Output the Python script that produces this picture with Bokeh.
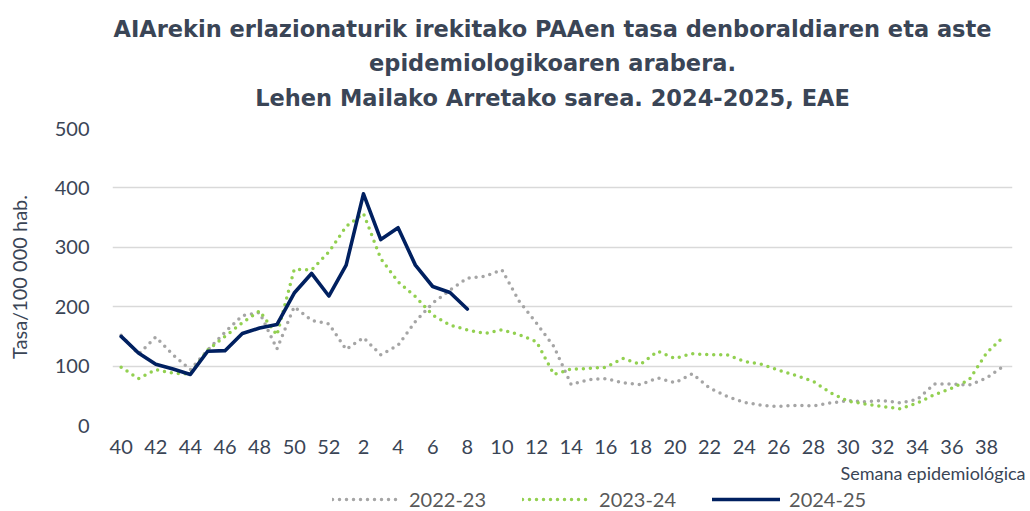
from bokeh.plotting import figure
from bokeh.layouts import column
from bokeh.models import Range1d, FixedTicker, Title, Label, Legend, LegendItem
from bokeh.embed import file_html
from bokeh.resources import INLINE

# ---- data ----
weeks = [str(w) for w in range(40, 53)] + [str(w) for w in range(1, 40)]
tick_idx = list(range(0, 52, 2))
y_ticks = [0, 100, 200, 300, 400, 500]

s2223 = [152, 120, 149, 119, 94, 127, 157, 185, 190, 129, 200, 177, 171,
         128, 148, 119, 135, 175, 206, 228, 248, 251, 262,
         209, 172, 133, 69, 77, 79, 72, 69, 80, 72,
         87, 63, 49, 39, 34, 32, 34, 33, 38, 42,
         40, 42, 38, 44, 70, 70, 68, 80, 100]
s2324 = [98, 79, 94, 88, 87, 127, 150, 173, 193, 152, 263, 262, 292,
         335, 357, 281, 242, 217, 186, 169, 161, 155, 161,
         153, 141, 86, 95, 96, 98, 113, 103, 125, 113,
         121, 119, 119, 108, 103, 93, 84, 74, 55, 41,
         36, 32, 28, 38, 52, 63, 77, 122, 150]
s2425 = [150, 122, 103, 95, 86, 125, 126, 155, 164, 170, 223, 256, 218,
         270, 390, 313, 333, 270, 234, 224, 196]

series_names = ["2022-23", "2023-24", "2024-25"]
colors = ["#A5A5A5", "#92D050", "#002060"]
dashes = ["0 7", "0 7", "solid"]
widths = [3.5, 3.5, 3.6]

title_lines = ["AIArekin erlazionaturik irekitako PAAen tasa denboraldiaren eta aste",
               "epidemiologikoaren arabera.",
               "Lehen Mailako Arretako sarea. 2024-2025, EAE"]
y_title = "Tasa/100 000 hab."
x_title = "Semana epidemiológica"

FONT = "Lato"
TFONT = "DejaVu Sans"
TXT = "#3A4556"
W = 1030


def strip(height):
    f = figure(width=W, height=height, output_backend="svg", toolbar_location=None,
               x_range=Range1d(0, 10), y_range=Range1d(0, 10),
               x_axis_location=None, y_axis_location=None, min_border=0)
    f.outline_line_color = None
    f.grid.visible = False
    f.border_fill_color = "white"
    return f


# ---- title strip (frame aligned with chart frame: x from 112 to 1012) ----
top = strip(110)
for t, ty in zip(title_lines, [82, 48, 13]):
    top.add_layout(Label(x=440, y=ty, x_units="screen", y_units="screen", text=t,
                         text_align="center", text_baseline="alphabetic",
                         text_font=TFONT, text_font_size="22.5px",
                         text_font_style="bold", text_color=TXT))

# ---- main chart ----
p = figure(width=W, height=376, output_backend="svg", toolbar_location=None,
           x_range=Range1d(-0.5, 51.5), y_range=Range1d(0, 500),
           min_border_left=112, min_border_right=18, min_border_top=18,
           min_border_bottom=60)
p.outline_line_color = None
p.border_fill_color = "white"
p.xgrid.grid_line_color = None
p.ygrid.ticker = FixedTicker(ticks=y_ticks)
p.ygrid.grid_line_color = "#D9D9D9"
p.ygrid.grid_line_width = 1.6

p.yaxis.ticker = FixedTicker(ticks=y_ticks)
p.xaxis.ticker = FixedTicker(ticks=tick_idx)
p.xaxis.major_label_overrides = {i: weeks[i] for i in tick_idx}
for ax in (p.xaxis, p.yaxis):
    ax.axis_line_color = None
    ax.major_tick_line_color = None
    ax.minor_tick_line_color = None
    ax.major_tick_out = 0
    ax.major_tick_in = 0
    ax.major_label_text_font = FONT
    ax.major_label_text_font_size = "20px"
    ax.major_label_text_color = TXT
p.yaxis.major_label_standoff = 23
p.xaxis.major_label_standoff = 14
p.yaxis.axis_label = y_title
p.yaxis.axis_label_standoff = 21
p.yaxis.axis_label_text_font = FONT
p.yaxis.axis_label_text_font_size = "20px"
p.yaxis.axis_label_text_font_style = "normal"
p.yaxis.axis_label_text_color = TXT

x_all = list(range(len(weeks)))
for vals, c, d, w in zip([s2223, s2324, s2425], colors, dashes, widths):
    p.line(x_all[:len(vals)], vals, line_color=c, line_width=w, line_dash=d,
           line_cap="round", line_join="round")

p.add_layout(Title(text=x_title, align="right", offset=-13, standoff=6,
                   text_font=FONT, text_font_size="18px", text_font_style="normal",
                   text_color=TXT), "below")

# ---- bottom strip: legend ----
bot = strip(25)
items = []
for name, c, d, w in zip(series_names, colors, dashes, widths):
    r = bot.line([-20, -10], [-20, -20], line_color=c, line_width=w, line_dash=d,
                 line_cap="round")
    items.append(LegendItem(label=name, renderers=[r]))
legend = Legend(items=items, orientation="horizontal", location=(220, 0),
                background_fill_alpha=0, border_line_alpha=0,
                padding=0, margin=0, spacing=36, glyph_width=68, glyph_height=20,
                label_standoff=9, label_width=77,
                label_text_font=FONT, label_text_font_size="20px",
                label_text_color="#595959")
bot.add_layout(legend)

layout = column(top, p, bot, spacing=0)
open("out.html", "w").write(file_html(layout, INLINE))
